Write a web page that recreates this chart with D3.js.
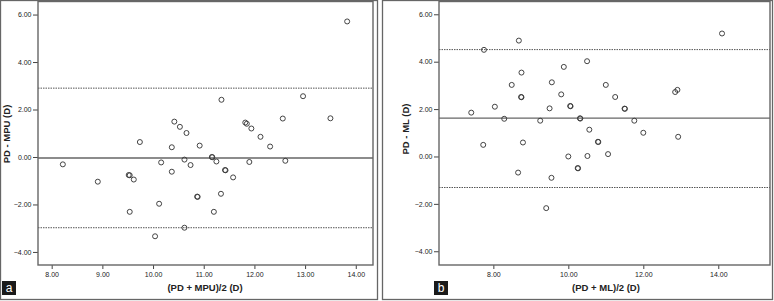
<!DOCTYPE html>
<html>
<head>
<meta charset="utf-8">
<script src="https://cdn.jsdelivr.net/npm/d3@7"></script>
<style>
  body { margin: 0; background: #fff; }
  svg { display: block; font-family: "Liberation Sans", Arial, sans-serif; }
  .tick text { font-size: 7px; fill: #222; }
  .tick line { stroke: #444; }
  .axisTitle { font-size: 9.5px; font-weight: bold; fill: #222; }
</style>
</head>
<body>
<svg id="chart" width="774" height="301"></svg>
<script>
// panel a: PD vs MPU
const mpuMean = [8.22, 8.91, 9.52, 9.54, 9.62, 9.54, 9.74, 10.04, 10.12, 10.16, 10.37, 10.37,
  10.42, 10.53, 10.62, 10.66, 10.74, 10.62, 10.87, 10.88, 10.92, 11.35, 11.16, 11.17, 11.25,
  11.42, 11.43, 11.58, 11.34, 11.20, 11.82, 11.85, 11.94, 12.12, 12.31, 11.90, 12.56, 12.61,
  12.96, 13.50, 13.83];
const mpuDiff = [-0.31, -1.04, -0.76, -0.77, -0.95, -2.31, 0.63, -3.34, -1.97, -0.23, 0.41, -0.62,
  1.49, 1.27, -0.11, 1.01, -0.34, -2.98, -1.67, -1.68, 0.48, 2.41, 0.00, -0.01, -0.19,
  -0.55, -0.56, -0.86, -1.55, -2.31, 1.45, 1.40, 1.20, 0.85, 0.44, -0.21, 1.62, -0.16,
  2.56, 1.63, 5.71];
const mpuLines = { mean: -0.04, upper: 2.90, lower: -2.98 };
const mpuXTicks = [8, 9, 10, 11, 12, 13, 14];

// panel b: PD vs ML
const mlMean = [8.68, 7.75, 10.50, 9.88, 8.75, 8.49, 9.56, 9.81, 8.74, 8.75, 8.04, 9.50, 10.05,
  10.06, 7.41, 8.29, 9.25, 10.31, 10.32, 10.56, 10.79, 10.80, 7.73, 8.79, 10.00, 10.51, 10.25,
  10.26, 8.66, 9.55, 9.41, 14.10, 11.00, 11.25, 11.50, 11.51, 12.85, 12.91, 11.76, 12.00,
  12.93, 11.06];
const mlDiff = [4.89, 4.50, 4.02, 3.78, 3.54, 3.02, 3.13, 2.62, 2.51, 2.50, 2.10, 2.03, 2.13,
  2.12, 1.85, 1.59, 1.51, 1.61, 1.60, 1.13, 0.62, 0.61, 0.49, 0.59, 0.00, 0.02, -0.49,
  -0.50, -0.68, -0.90, -2.18, 5.19, 3.02, 2.51, 2.02, 2.01, 2.72, 2.81, 1.51, 1.00,
  0.83, 0.10];
const mlLines = { mean: 1.62, upper: 4.51, lower: -1.31 };
const mlXTicks = [8, 10, 12, 14];

const yTicks = [-4, -2, 0, 2, 4, 6];

const svg = d3.select("#chart");

function drawPanel(opts) {
  const g = svg.append("g");

  // outer frame of the panel
  g.append("rect")
    .attr("x", opts.frame[0] + 0.5)
    .attr("y", 0.5)
    .attr("width", opts.frame[1] - opts.frame[0])
    .attr("height", 299)
    .attr("fill", "none")
    .attr("stroke", "#666")
    .attr("stroke-width", 1.3);

  const x = d3.scaleLinear().domain(opts.xDomain).range([opts.left, opts.right]);
  const y = d3.scaleLinear().domain(opts.yDomain).range([265, 1.5]);

  // axes
  g.append("g")
    .attr("transform", "translate(" + opts.left + ",0)")
    .call(d3.axisLeft(y).tickValues(yTicks).tickFormat(d3.format(".2f")).tickSize(5).tickPadding(1.5))
    .call(a => a.select(".domain").remove());

  g.append("g")
    .attr("transform", "translate(0,265)")
    .call(d3.axisBottom(x).tickValues(opts.xTicks).tickFormat(d3.format(".2f")).tickSize(4).tickPadding(3))
    .call(a => a.select(".domain").remove());

  // reference lines
  g.append("line")
    .attr("x1", opts.left).attr("x2", opts.right)
    .attr("y1", y(opts.lines.mean)).attr("y2", y(opts.lines.mean))
    .attr("stroke", "#666").attr("stroke-width", 1.4);
  [opts.lines.upper, opts.lines.lower].forEach(v => {
    g.append("line")
      .attr("x1", opts.left).attr("x2", opts.right)
      .attr("y1", y(v)).attr("y2", y(v))
      .attr("stroke", "#555").attr("stroke-width", 1)
      .attr("stroke-dasharray", "1.5,1");
  });

  // plot frame
  g.append("rect")
    .attr("x", opts.left).attr("y", 1.5)
    .attr("width", opts.right - opts.left)
    .attr("height", 265 - 1.5)
    .attr("fill", "none")
    .attr("stroke", "#666")
    .attr("stroke-width", 1.4);

  // points
  g.selectAll("circle.pt")
    .data(opts.xs.map((d, i) => [d, opts.ys[i]]))
    .join("circle")
    .attr("class", "pt")
    .attr("cx", d => x(d[0]))
    .attr("cy", d => y(d[1]))
    .attr("r", 2.5)
    .attr("fill", "none")
    .attr("stroke", "#3a3a3a")
    .attr("stroke-width", 0.95);

  // axis titles
  g.append("text")
    .attr("class", "axisTitle")
    .attr("x", opts.xTitleX)
    .attr("y", 291)
    .attr("text-anchor", "middle")
    .text(opts.xTitle);
  g.append("text")
    .attr("class", "axisTitle")
    .attr("transform", "translate(" + opts.yTitleX + "," + opts.yTitleY + ") rotate(-90)")
    .attr("text-anchor", "middle")
    .text(opts.yTitle);

  // panel letter
  g.append("rect")
    .attr("x", opts.tagX).attr("y", 281)
    .attr("width", 14).attr("height", 14)
    .attr("fill", "#1a1a1a");
  g.append("text")
    .attr("x", opts.tagX + 7).attr("y", 292)
    .attr("text-anchor", "middle")
    .attr("fill", "#fff")
    .style("font-size", "12px")
    .text(opts.tag);
}

drawPanel({
  frame: [0, 377],
  left: 38, right: 373,
  xDomain: [7.73, 14.34], yDomain: [-4.55, 6.55],
  xTicks: mpuXTicks, lines: mpuLines,
  xs: mpuMean, ys: mpuDiff,
  xTitle: "(PD + MPU)/2 (D)", xTitleX: 205,
  yTitle: "PD - MPU (D)", yTitleX: 10, yTitleY: 134,
  tag: "a", tagX: 2
});

drawPanel({
  frame: [382, 772],
  left: 439, right: 770,
  xDomain: [6.55, 15.38], yDomain: [-4.58, 6.54],
  xTicks: mlXTicks, lines: mlLines,
  xs: mlMean, ys: mlDiff,
  xTitle: "(PD + ML)/2 (D)", xTitleX: 606,
  yTitle: "PD - ML (D)", yTitleX: 409, yTitleY: 129,
  tag: "b", tagX: 434
});
</script>
</body>
</html>
